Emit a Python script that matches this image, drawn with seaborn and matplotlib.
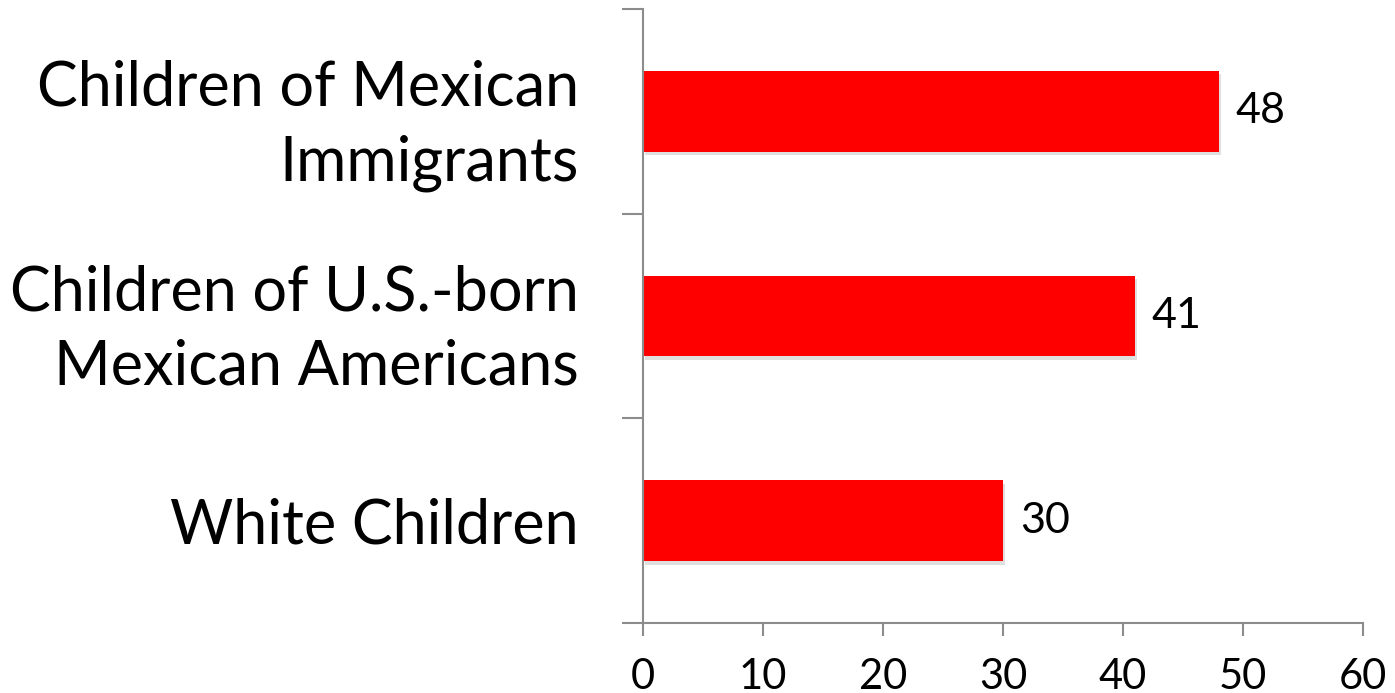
import matplotlib
matplotlib.use("Agg")
import matplotlib.pyplot as plt
import matplotlib.patheffects as pe
import seaborn as sns
import pandas as pd
import numpy as np

categories = ["Children of Mexican\nImmigrants",
              "Children of U.S.-born\nMexican Americans",
              "White Children"]
values = [48, 41, 30]
xticks = [0, 10, 20, 30, 40, 50, 60]

sns.set_theme(style="white")
plt.rcParams['font.family'] = ['Lato', 'DejaVu Sans']

df = pd.DataFrame({"group": categories, "value": values})

fig = plt.figure(figsize=(13.95, 6.93), dpi=100)
ax = fig.add_axes([643/1395, 1 - 623/693, (1363-643)/1395, (623-9)/693])

sns.barplot(data=df, y="group", x="value", orient="h", color="#FF0000",
            saturation=1, width=0.395, ax=ax, order=categories)

for p in ax.patches:
    p.set_path_effects([pe.SimplePatchShadow(offset=(1.5, -2.5), shadow_rgbFace="#808080", alpha=0.25),
                        pe.Normal()])
    p.set_linewidth(0)

ax.set_xlim(0, 60)
ax.set_ylim(2.5, -0.5)
ax.set_xticks(xticks)
ax.set_xticklabels([str(t) for t in xticks])
ax.set_xlabel("")
ax.set_ylabel("")

grey = "#8C8C8C"
for s in ["top", "right"]:
    ax.spines[s].set_visible(False)
for s in ["left", "bottom"]:
    ax.spines[s].set_color(grey)
    ax.spines[s].set_linewidth(1.5)

ax.tick_params(axis="x", which="major", bottom=True, length=9, width=1.5, color=grey,
               labelsize=30, pad=16, labelcolor="black")
ax.set_yticks([0, 1, 2])
ax.set_yticklabels(categories, fontsize=44, linespacing=1.38)
for lbl in ax.get_yticklabels():
    lbl.set_horizontalalignment("right")
    lbl.set_verticalalignment("center_baseline")
ax.tick_params(axis="y", which="major", left=True, length=0, pad=46, labelcolor="black")
ax.set_yticks([-0.5, 0.5, 1.5, 2.5], minor=True)
ax.tick_params(axis="y", which="minor", left=True, length=15, width=1.5, color=grey)

ax.bar_label(ax.containers[0], labels=[str(v) for v in values], padding=12,
             fontsize=31, color="black")

fig.savefig("out.png", dpi=100)
